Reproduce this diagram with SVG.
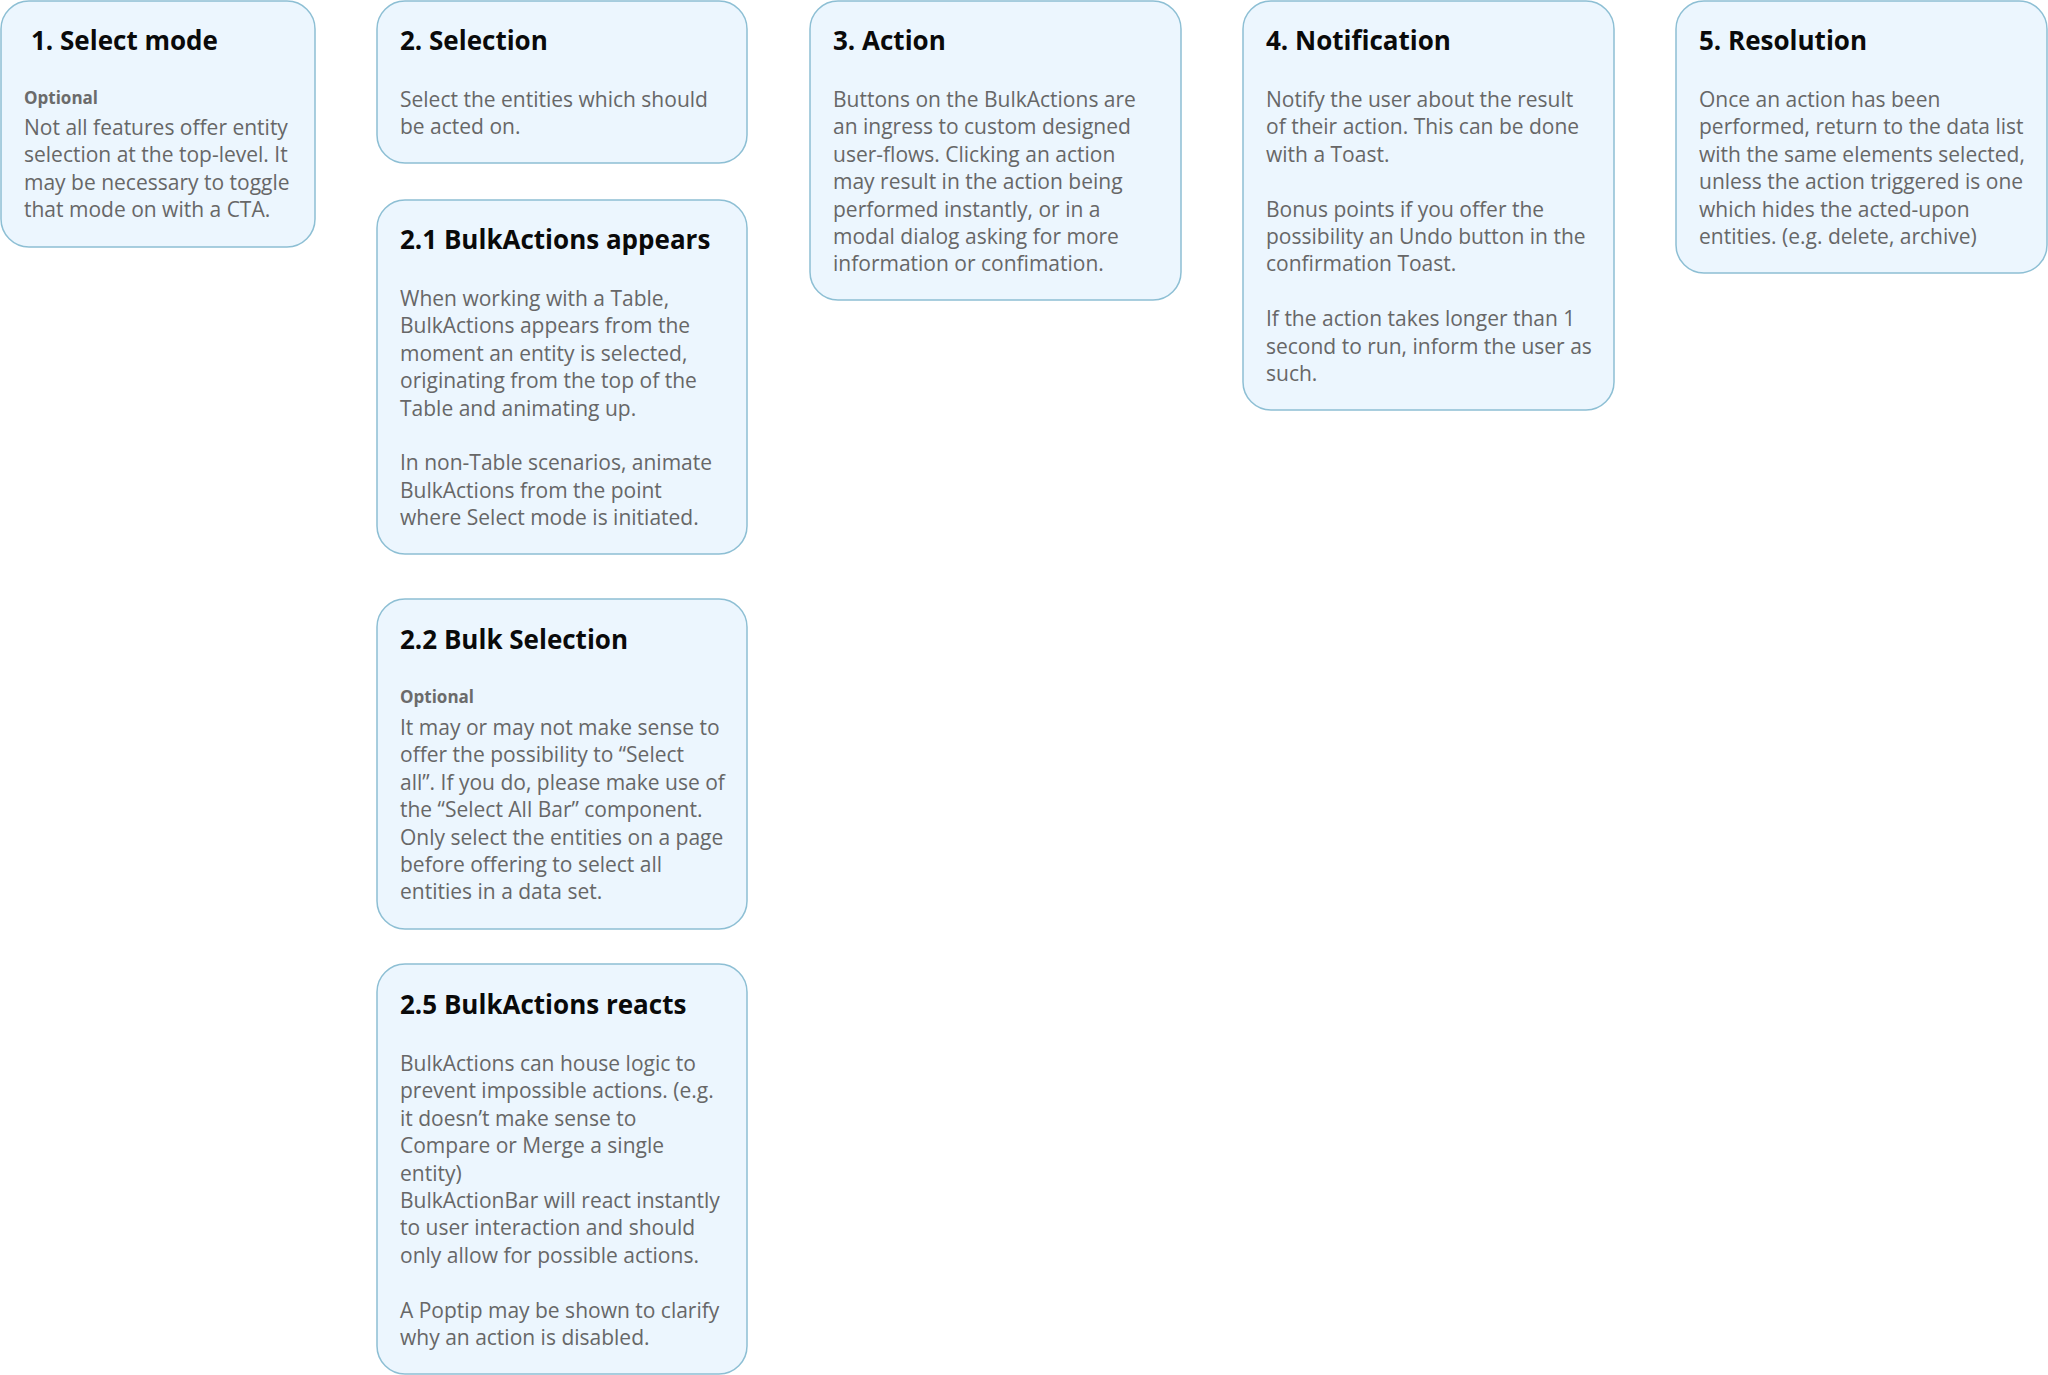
<svg xmlns="http://www.w3.org/2000/svg" width="2048" height="1375" viewBox="0 0 2048 1375">
<style>
.box{fill:#ECF6FE;stroke:#8DBFD4;stroke-width:1.5}
.t{font-family:"Open Sans","Noto Sans",sans-serif;font-weight:700;font-size:26px;fill:#0a0a0a}
.o{font-family:"Open Sans","Noto Sans",sans-serif;font-weight:700;font-size:17px;fill:#6b6b6b}
.b{font-family:"Open Sans","Noto Sans",sans-serif;font-size:21px;fill:#676767}
</style>
<rect width="2048" height="1375" fill="#ffffff"/>
<g id="connectors"></g>
<g id="n1">
<rect class="box" x="1" y="1" width="314" height="246" rx="28"/>
<text class="t" x="31" y="50">1. Select mode</text>
<text class="o" x="24" y="104">Optional</text>
<text class="b" x="24"><tspan x="24" y="135">Not all features offer entity</tspan><tspan x="24" y="162.4">selection at the top-level. It</tspan><tspan x="24" y="189.8">may be necessary to toggle</tspan><tspan x="24" y="217.2">that mode on with a CTA.</tspan></text>
</g>
<g id="n2">
<rect class="box" x="377" y="1" width="370" height="162" rx="28"/>
<text class="t" x="400" y="50">2. Selection</text>
<text class="b"><tspan x="400" y="107">Select the entities which should</tspan><tspan x="400" y="134.4">be acted on.</tspan></text>
</g>
<g id="n2-1">
<rect class="box" x="377" y="200" width="370" height="354" rx="28"/>
<text class="t" x="400" y="249">2.1 BulkActions appears</text>
<text class="b"><tspan x="400" y="306">When working with a Table,</tspan><tspan x="400" y="333.4">BulkActions appears from the</tspan><tspan x="400" y="360.8">moment an entity is selected,</tspan><tspan x="400" y="388.2">originating from the top of the</tspan><tspan x="400" y="415.6">Table and animating up.</tspan><tspan x="400" y="470.4">In non-Table scenarios, animate</tspan><tspan x="400" y="497.8">BulkActions from the point</tspan><tspan x="400" y="525.2">where Select mode is initiated.</tspan></text>
</g>
<g id="n2-2">
<rect class="box" x="377" y="599" width="370" height="330" rx="28"/>
<text class="t" x="400" y="649">2.2 Bulk Selection</text>
<text class="o" x="400" y="703">Optional</text>
<text class="b"><tspan x="400" y="735">It may or may not make sense to</tspan><tspan x="400" y="762.4">offer the possibility to “Select</tspan><tspan x="400" y="789.8">all”. If you do, please make use of</tspan><tspan x="400" y="817.2">the “Select All Bar” component.</tspan><tspan x="400" y="844.6">Only select the entities on a page</tspan><tspan x="400" y="872">before offering to select all</tspan><tspan x="400" y="899.4">entities in a data set.</tspan></text>
</g>
<g id="n2-5">
<rect class="box" x="377" y="964" width="370" height="410" rx="28"/>
<text class="t" x="400" y="1014">2.5 BulkActions reacts</text>
<text class="b"><tspan x="400" y="1071">BulkActions can house logic to</tspan><tspan x="400" y="1098.4">prevent impossible actions. (e.g.</tspan><tspan x="400" y="1125.8">it doesn’t make sense to</tspan><tspan x="400" y="1153.2">Compare or Merge a single</tspan><tspan x="400" y="1180.6">entity)</tspan><tspan x="400" y="1208">BulkActionBar will react instantly</tspan><tspan x="400" y="1235.4">to user interaction and should</tspan><tspan x="400" y="1262.8">only allow for possible actions.</tspan><tspan x="400" y="1317.6">A Poptip may be shown to clarify</tspan><tspan x="400" y="1345">why an action is disabled.</tspan></text>
</g>
<g id="n3">
<rect class="box" x="810" y="1" width="371" height="299" rx="28"/>
<text class="t" x="833" y="50">3. Action</text>
<text class="b"><tspan x="833" y="107">Buttons on the BulkActions are</tspan><tspan x="833" y="134.4">an ingress to custom designed</tspan><tspan x="833" y="161.8">user-flows. Clicking an action</tspan><tspan x="833" y="189.2">may result in the action being</tspan><tspan x="833" y="216.6">performed instantly, or in a</tspan><tspan x="833" y="244">modal dialog asking for more</tspan><tspan x="833" y="271.4">information or confimation.</tspan></text>
</g>
<g id="n4">
<rect class="box" x="1243" y="1" width="371" height="409" rx="28"/>
<text class="t" x="1266" y="50">4. Notification</text>
<text class="b"><tspan x="1266" y="107">Notify the user about the result</tspan><tspan x="1266" y="134.4">of their action. This can be done</tspan><tspan x="1266" y="161.8">with a Toast.</tspan><tspan x="1266" y="216.6">Bonus points if you offer the</tspan><tspan x="1266" y="244">possibility an Undo button in the</tspan><tspan x="1266" y="271.4">confirmation Toast.</tspan><tspan x="1266" y="326.2">If the action takes longer than 1</tspan><tspan x="1266" y="353.6">second to run, inform the user as</tspan><tspan x="1266" y="381">such.</tspan></text>
</g>
<g id="n5">
<rect class="box" x="1676" y="1" width="371" height="272" rx="28"/>
<text class="t" x="1699" y="50">5. Resolution</text>
<text class="b"><tspan x="1699" y="107">Once an action has been</tspan><tspan x="1699" y="134.4">performed, return to the data list</tspan><tspan x="1699" y="161.8">with the same elements selected,</tspan><tspan x="1699" y="189.2">unless the action triggered is one</tspan><tspan x="1699" y="216.6">which hides the acted-upon</tspan><tspan x="1699" y="244">entities. (e.g. delete, archive)</tspan></text>
</g>
</svg>
